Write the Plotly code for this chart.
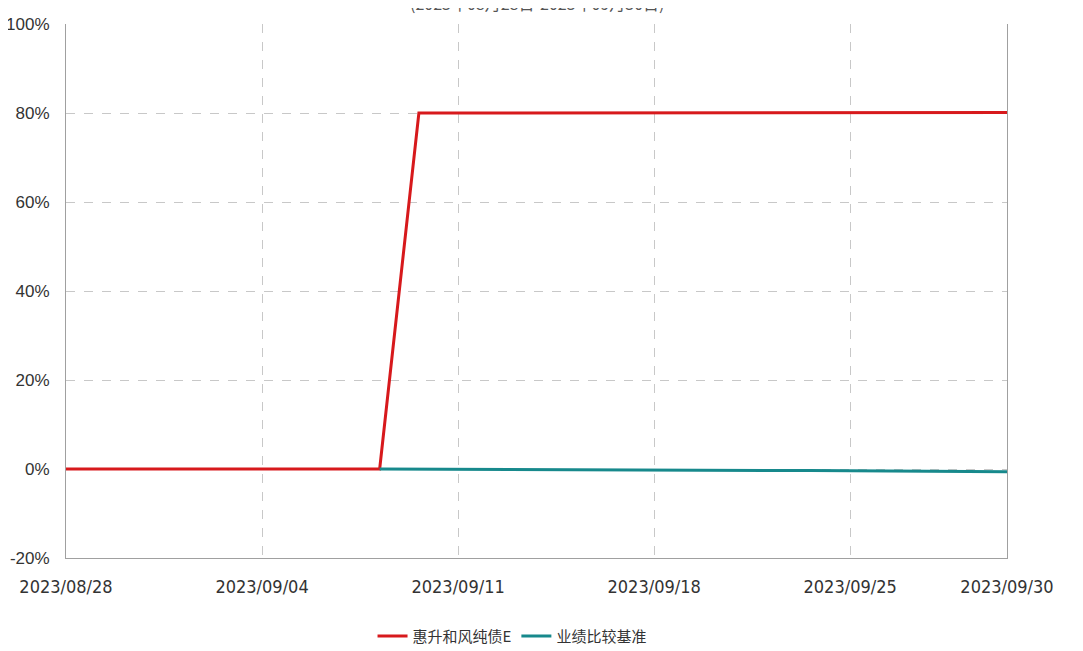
import plotly.graph_objects as go

dates = ["2023/08/28", "2023/08/29", "2023/08/30", "2023/08/31", "2023/09/01",
         "2023/09/04", "2023/09/05", "2023/09/06", "2023/09/07", "2023/09/08",
         "2023/09/11", "2023/09/12", "2023/09/13", "2023/09/14", "2023/09/15",
         "2023/09/18", "2023/09/19", "2023/09/20", "2023/09/21", "2023/09/22",
         "2023/09/25", "2023/09/26", "2023/09/27", "2023/09/28", "2023/09/30"]
fund = [0.0, 0.0, 0.0, 0.0, 0.0, 0.0, 0.0, 0.0, 0.0, 80.0,
        80.0, 80.0, 80.0, 80.0, 80.0, 80.0, 80.0, 80.0, 80.0, 80.0,
        80.0, 80.0, 80.0, 80.05, 80.1]
bench = [None, None, None, None, None, None, None, None, 0.0, -0.05,
         -0.1, -0.12, -0.15, -0.18, -0.2, -0.25, -0.28, -0.3, -0.33, -0.35,
         -0.4, -0.45, -0.5, -0.55, -0.6]
tick_dates = ["2023/08/28", "2023/09/04", "2023/09/11", "2023/09/18", "2023/09/25", "2023/09/30"]
y_ticks = [-20, 0, 20, 40, 60, 80, 100]
fund_name = "惠升和风纯债E"
bench_name = "业绩比较基准"
subtitle = "(2023年08月28日-2023年09月30日)"

idx = list(range(len(dates)))
tick_idx = [dates.index(d) for d in tick_dates]

fig = go.Figure()
fig.add_trace(go.Scatter(x=idx, y=fund, mode="lines", name=fund_name,
                         line=dict(color="#d7191c", width=3)))
fig.add_trace(go.Scatter(x=idx, y=bench, mode="lines", name=bench_name,
                         line=dict(color="#17898c", width=3)))

tick_font = dict(family="DejaVu Sans Condensed, Liberation Sans, Arial", size=18, color="#333333")

# page body has an 8px margin: compensate so the plot area lands at 66..1007 x 24..558
fig.update_layout(
    width=1075, height=643,
    margin=dict(l=58, r=76, t=16, b=93),
    paper_bgcolor="white", plot_bgcolor="white",
    showlegend=True,
    legend=dict(orientation="h", x=0.474, xanchor="center", yref="container",
                y=0.023, yanchor="middle",
                font=dict(family="Noto Sans CJK SC", size=15, color="#333333"),
                itemwidth=30),
    xaxis=dict(range=[0, len(dates) - 1], tickmode="array", tickvals=tick_idx,
               ticktext=tick_dates, showgrid=True, gridcolor="#c8c8c8", griddash="dash",
               gridwidth=1, showline=True, linecolor="#a0a0a0", linewidth=1,
               ticks="", tickfont=tick_font, zeroline=False, ticklabelstandoff=12,
               automargin=False),
    yaxis=dict(range=[-20, 100], tickmode="array", tickvals=y_ticks,
               ticktext=[f"{v}%" for v in y_ticks], showgrid=True, gridcolor="#c8c8c8",
               griddash="dash", gridwidth=1, showline=True, mirror=True,
               linecolor="#a0a0a0", linewidth=1, ticks="", zeroline=False,
               tickfont=dict(family="Liberation Sans, Arial", size=17, color="#333333"),
               ticklabelstandoff=12, automargin=False),
    annotations=[dict(text=subtitle, xref="paper", yref="paper", x=0.5, y=1.0,
                      yshift=7, yanchor="bottom", showarrow=False,
                      font=dict(family="Noto Sans CJK SC", size=16, color="#555555"))],
)

fig.write_html("out.html")
